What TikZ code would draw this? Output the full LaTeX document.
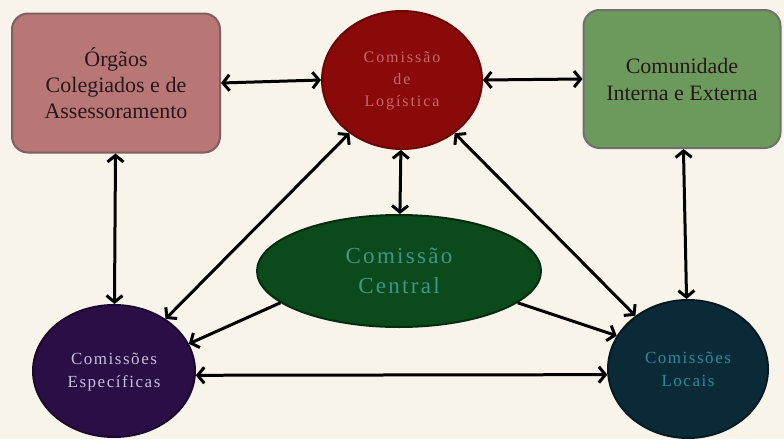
\documentclass[tikz,border=0pt]{standalone}
\usepackage{fontspec}
\setmainfont{Liberation Serif}
\newfontfamily\trkfont[LetterSpace=12]{Liberation Serif}
\newfontfamily\trkfontb[LetterSpace=10]{Liberation Serif}
\newfontfamily\trkfontc[LetterSpace=9]{Liberation Serif}
\usetikzlibrary{arrows.meta,shapes.geometric}
\definecolor{bgpaper}{HTML}{F8F4E9}
\definecolor{orgfill}{HTML}{B87676}
\definecolor{orgdraw}{HTML}{7E6060}
\definecolor{boxtext}{HTML}{261818}
\definecolor{logfill}{HTML}{8A0A0A}
\definecolor{logdraw}{HTML}{6A0606}
\definecolor{logtext}{HTML}{C86868}
\definecolor{comfill}{HTML}{6C9A5D}
\definecolor{comdraw}{HTML}{707070}
\definecolor{cenfill}{HTML}{0B4A1A}
\definecolor{cendraw}{HTML}{062C10}
\definecolor{centext}{HTML}{3C968C}
\definecolor{espfill}{HTML}{2A0E46}
\definecolor{espdraw}{HTML}{1C0830}
\definecolor{esptext}{HTML}{C8BEDC}
\definecolor{locfill}{HTML}{0B2A38}
\definecolor{locdraw}{HTML}{061A24}
\definecolor{loctext}{HTML}{2A8C9B}
\newcommand{\stackdown}[2]{\raisebox{#1}{\begin{tabular}{@{}c@{}}#2\end{tabular}}}
\tikzset{
  boxnode/.style={rectangle, rounded corners=16pt, line width=2pt,
    minimum width=208pt, minimum height=139pt, inner sep=0pt, align=center,
    font=\fontsize{22}{26}\selectfont, text=boxtext},
  ellnode/.style={ellipse, inner sep=0pt, align=center, line width=2pt},
  link/.style={line width=3pt, draw=black,
    {Straight Barb[length=6.5pt,width=16pt]}-{Straight Barb[length=6.5pt,width=16pt]}},
  onelink/.style={line width=3pt, draw=black,
    -{Straight Barb[length=6.5pt,width=16pt]}}
}
\begin{document}
\begin{tikzpicture}[x=1pt,y=-1pt]
\fill[bgpaper] (0,0) rectangle (784,439);
\useasboundingbox (0,0) rectangle (784,439);

\node[boxnode, fill=orgfill, draw=orgdraw] (org) at (116,83)
  {Órgãos\\Colegiados e de\\Assessoramento};
\node[boxnode, fill=comfill, draw=comdraw, minimum width=197pt, minimum height=138pt,
  font=\fontsize{22}{27}\selectfont] (com) at (682,79)
  {Comunidade\\Interna e Externa};

\node[ellnode, fill=logfill, draw=logdraw, minimum width=160pt, minimum height=138pt,
  text=logtext, font=\trkfont\fontsize{16}{22}\selectfont] (log) at (402,80)
  {\stackdown{-4pt}{Comissão\\de\\Logística}};
\node[ellnode, fill=cenfill, draw=cendraw, minimum width=284pt, minimum height=112pt,
  text=centext, font=\trkfontb\fontsize{23}{30}\selectfont] (cen) at (399,271)
  {Comissão\\Central};
\node[ellnode, fill=espfill, draw=espdraw, minimum width=162pt, minimum height=132pt,
  text=esptext, font=\trkfontc\fontsize{17}{23}\selectfont] (esp) at (114,371)
  {\stackdown{-3pt}{Comissões\\Específicas}};
\node[ellnode, fill=locfill, draw=locdraw, minimum width=160pt, minimum height=138pt,
  text=loctext, font=\trkfontc\fontsize{17}{23}\selectfont] (loc) at (688,369)
  {Comissões\\Locais};

\draw[link] (org.east) -- (log.west);
\draw[link] (log.east) -- (com.west);
\draw[link] (org) -- (esp);
\draw[link] (com) -- (loc);
\draw[link] (log) -- (cen);
\draw[link] (log) -- (esp);
\draw[link] (log) -- (loc);
\draw[onelink] (cen.195) -- (esp.20);
\draw[onelink] (cen.345) -- (loc.155);
\draw[link] (esp.-3) -- (loc.184);
\end{tikzpicture}
\end{document}
